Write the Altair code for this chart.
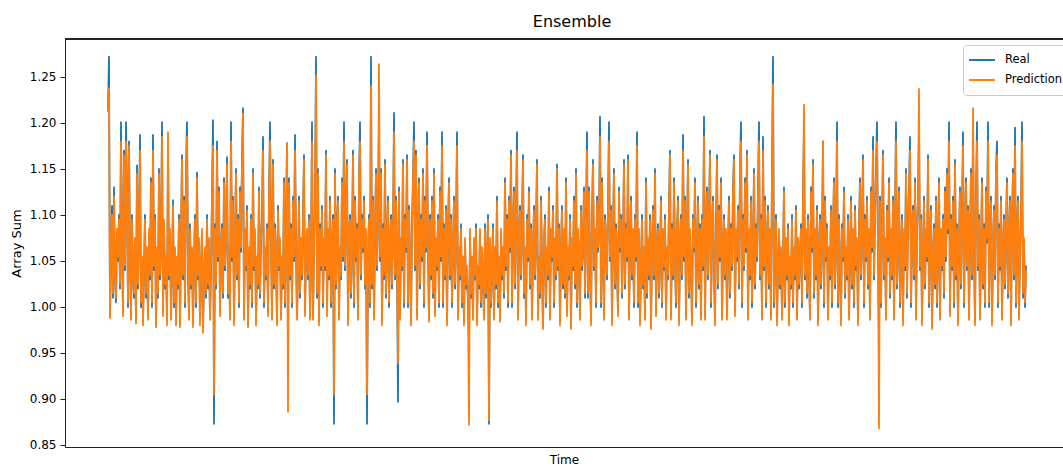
import altair as alt
import pandas as pd

# Measured series, one sample per time step
real = [
    1.215, 1.272, 0.99, 1.06, 1.11, 1.01, 1.13, 1.03, 1.005, 1.08, 1.05, 1.10, 1.02, 1.201, 1.07, 0.995, 1.17, 1.04, 1.201, 1.12,
    1.00, 1.18, 1.06, 0.99, 1.10, 1.03, 1.01, 1.07, 0.985, 1.154, 1.02, 1.09, 1.187, 1.00, 1.05, 0.985, 1.04, 1.10, 1.01, 1.06,
    0.99, 1.08, 1.03, 1.14, 1.00, 1.187, 1.04, 1.10, 0.98, 1.06, 1.01, 1.15, 1.03, 1.07, 1.201, 0.995, 1.09, 1.02, 1.05, 0.985,
    1.17, 1.03, 1.08, 0.99, 1.04, 1.116, 1.00, 1.06, 0.982, 1.05, 1.02, 1.10, 0.98, 1.07, 1.165, 1.03, 1.12, 1.00, 1.15, 1.201,
    1.04, 0.99, 1.09, 1.02, 1.06, 0.982, 1.05, 1.10, 1.00, 1.146, 1.03, 1.07, 0.985, 1.04, 1.08, 0.978, 1.03, 1.06, 1.01, 1.10,
    1.02, 1.07, 0.99, 1.04, 1.12, 1.203, 0.873, 1.09, 1.02, 1.18, 1.05, 1.13, 0.995, 1.06, 1.09, 1.01, 1.14, 1.04, 1.08, 1.163,
    1.01, 1.06, 0.99, 1.201, 1.05, 1.12, 0.985, 1.07, 1.15, 1.03, 1.10, 1.00, 1.13, 1.06, 1.16, 1.216, 0.99, 1.08, 1.04, 1.11,
    0.98, 1.06, 1.02, 1.10, 1.00, 1.15, 1.04, 1.08, 0.985, 1.05, 1.02, 1.13, 1.01, 1.07, 1.10, 1.185, 1.00, 1.06, 1.03, 1.09,
    0.995, 1.12, 1.201, 1.07, 0.99, 1.16, 1.02, 1.09, 1.05, 0.985, 1.11, 1.04, 1.07, 0.99, 1.05, 1.02, 1.14, 1.00, 1.08, 1.178,
    0.96, 1.14, 1.03, 1.09, 1.00, 1.12, 1.05, 1.187, 1.06, 0.99, 1.04, 1.12, 1.01, 1.07, 1.03, 1.10, 1.165, 0.995, 1.06, 1.08,
    1.03, 1.10, 0.99, 1.05, 1.201, 0.99, 1.06, 1.12, 1.272, 1.01, 1.15, 0.985, 1.09, 1.04, 1.11, 1.00, 1.07, 1.04, 1.17, 0.995,
    1.08, 1.03, 1.12, 1.00, 1.06, 1.10, 0.873, 1.15, 1.02, 1.09, 1.12, 0.99, 1.06, 1.03, 1.14, 1.05, 1.201, 1.04, 1.10, 1.16,
    0.985, 1.08, 1.10, 1.01, 1.06, 1.17, 1.00, 1.12, 1.05, 1.09, 0.99, 1.14, 1.201, 1.03, 1.10, 1.06, 1.12, 1.02, 1.08, 0.873,
    1.05, 1.10, 1.00, 1.272, 1.02, 1.12, 0.99, 1.08, 1.15, 1.04, 1.10, 1.20, 1.05, 1.15, 0.985, 1.09, 1.03, 1.16, 1.01, 1.07,
    1.12, 1.00, 1.06, 1.10, 1.02, 1.08, 1.211, 1.03, 1.12, 1.05, 0.897, 1.13, 0.99, 1.07, 1.04, 1.16, 1.00, 1.10, 1.06, 1.165,
    1.00, 1.11, 1.05, 0.985, 1.09, 1.14, 1.201, 1.04, 1.17, 0.99, 1.08, 1.14, 1.02, 1.10, 1.05, 1.15, 1.00, 1.12, 1.06, 1.19,
    1.06, 0.988, 1.10, 1.03, 1.12, 1.01, 1.15, 0.995, 1.07, 1.04, 1.10, 1.00, 1.13, 1.05, 1.19, 1.00, 1.09, 1.03, 1.11, 0.985,
    1.08, 1.14, 1.03, 1.10, 1.00, 1.06, 1.12, 1.02, 1.08, 1.19, 0.99, 1.06, 1.03, 1.09, 1.00, 1.05, 0.985, 1.07, 1.02, 1.04,
    1.00, 0.96, 1.08, 1.01, 1.05, 0.99, 1.07, 1.03, 1.09, 0.985, 1.04, 1.02, 1.08, 1.00, 1.06, 1.03, 0.99, 1.09, 1.01, 1.05,
    1.10, 0.873, 1.07, 1.00, 1.04, 1.09, 0.99, 1.06, 1.02, 1.12, 1.00, 1.05, 0.988, 1.08, 1.03, 1.06, 1.01, 1.14, 1.04, 1.10,
    1.00, 1.12, 1.06, 1.17, 1.00, 1.08, 1.13, 1.02, 1.10, 1.19, 0.99, 1.07, 1.11, 1.03, 1.09, 1.165, 1.01, 1.06, 0.985, 1.10,
    1.05, 1.13, 1.02, 1.09, 0.99, 1.06, 1.11, 1.03, 1.08, 1.16, 0.99, 1.05, 1.01, 1.12, 1.04, 0.98, 1.07, 1.10, 1.00, 1.06,
    1.03, 1.13, 0.99, 1.08, 1.05, 1.11, 1.00, 1.07, 1.03, 1.155, 1.04, 1.09, 0.985, 1.06, 1.11, 1.02, 1.08, 1.01, 1.14, 0.995,
    1.06, 1.03, 1.10, 0.98, 1.07, 1.04, 1.12, 1.02, 1.15, 1.00, 1.08, 1.05, 0.99, 1.11, 1.04, 1.07, 1.13, 1.01, 1.09, 1.19,
    1.01, 1.13, 1.05, 0.985, 1.10, 1.16, 1.04, 1.08, 1.00, 1.12, 1.06, 1.09, 1.207, 1.00, 1.14, 1.05, 0.99, 1.10, 1.07, 1.03,
    1.11, 1.201, 1.05, 1.11, 0.985, 1.08, 1.15, 1.02, 1.09, 1.04, 0.995, 1.13, 1.06, 1.10, 1.01, 1.07, 1.16, 1.02, 1.09, 1.05,
    1.165, 0.99, 1.06, 1.12, 1.03, 1.08, 1.00, 1.10, 1.05, 1.19, 1.00, 1.08, 0.985, 1.04, 1.10, 1.02, 1.06, 0.99, 1.14, 1.01,
    1.07, 1.03, 1.10, 0.98, 1.06, 1.11, 1.03, 1.15, 0.995, 1.06, 1.09, 1.01, 1.05, 1.12, 1.00, 1.08, 1.04, 1.10, 0.99, 1.06,
    1.03, 1.11, 1.17, 0.99, 1.09, 1.03, 1.14, 1.05, 1.00, 1.08, 1.12, 0.985, 1.06, 1.10, 1.03, 1.187, 1.05, 1.12, 0.99, 1.08,
    1.16, 1.01, 1.08, 1.04, 0.985, 1.10, 1.06, 1.14, 1.00, 1.05, 1.12, 1.02, 1.09, 0.99, 1.10, 1.04, 1.207, 0.99, 1.08, 1.13,
    1.03, 1.10, 1.17, 1.00, 1.07, 1.12, 1.04, 0.985, 1.09, 1.165, 1.02, 1.11, 1.05, 1.14, 0.99, 1.06, 1.10, 1.03, 1.08, 0.99,
    1.06, 1.12, 1.01, 1.09, 1.04, 1.13, 1.165, 0.995, 1.08, 1.05, 1.11, 1.02, 1.15, 1.201, 1.00, 1.10, 1.04, 1.14, 1.06, 1.17,
    0.99, 1.08, 1.03, 1.12, 1.00, 1.06, 1.15, 1.02, 1.09, 1.05, 1.13, 1.201, 1.03, 1.10, 0.99, 1.185, 1.04, 1.12, 1.00, 1.07,
    1.11, 1.02, 1.08, 0.99, 1.15, 1.272, 1.00, 1.06, 1.10, 0.985, 1.04, 1.08, 1.02, 1.06, 0.99, 1.05, 1.13, 1.00, 1.07, 1.03,
    1.09, 0.985, 1.05, 1.02, 1.10, 1.00, 1.06, 1.03, 1.11, 0.99, 1.07, 1.02, 1.05, 1.09, 1.00, 1.12, 1.19, 1.03, 1.08, 1.01,
    1.10, 1.04, 0.99, 1.13, 1.06, 1.16, 1.01, 1.08, 1.03, 1.11, 0.985, 1.06, 1.10, 1.02, 1.07, 1.18, 1.00, 1.12, 1.05, 1.09,
    0.99, 1.06, 1.03, 1.11, 1.00, 1.08, 1.14, 1.02, 1.07, 1.201, 1.00, 1.10, 1.04, 0.985, 1.09, 1.05, 1.13, 1.01, 1.06, 1.03,
    1.10, 0.99, 1.05, 1.12, 1.02, 1.08, 1.00, 1.11, 1.04, 1.07, 0.985, 1.09, 1.14, 1.03, 1.08, 1.165, 1.00, 1.10, 1.05, 1.12,
    1.02, 1.08, 0.99, 1.13, 1.06, 1.185, 1.03, 1.10, 1.15, 1.201, 1.06, 0.96, 1.12, 1.00, 1.09, 1.17, 1.03, 1.07, 0.99, 1.11,
    1.05, 1.14, 1.01, 1.08, 1.03, 1.12, 0.99, 1.10, 1.201, 1.02, 1.07, 1.13, 1.00, 1.06, 1.10, 0.985, 1.08, 1.04, 1.15, 1.01,
    1.09, 1.13, 1.185, 1.00, 1.07, 1.11, 1.03, 1.14, 0.99, 1.08, 1.12, 1.19, 1.04, 1.10, 0.985, 1.06, 1.12, 1.02, 1.08, 1.05,
    1.165, 1.00, 1.07, 1.11, 0.98, 1.05, 1.09, 1.02, 1.12, 1.00, 1.06, 1.14, 0.99, 1.08, 1.04, 1.10, 1.01, 1.13, 1.05, 1.15,
    1.08, 1.201, 0.995, 1.10, 1.04, 1.12, 1.00, 1.16, 1.03, 1.09, 0.985, 1.07, 1.13, 1.02, 1.10, 1.19, 1.00, 1.08, 1.14, 1.04,
    1.11, 0.99, 1.07, 1.15, 1.03, 1.19, 1.06, 0.985, 1.12, 1.201, 1.04, 1.10, 0.99, 1.06, 1.14, 1.02, 1.09, 1.00, 1.13, 1.07,
    1.201, 1.00, 1.08, 1.12, 0.985, 1.06, 1.11, 1.03, 1.15, 1.18, 1.00, 1.09, 1.04, 1.12, 0.99, 1.06, 1.10, 1.02, 1.08, 1.14,
    1.01, 1.07, 1.12, 0.985, 1.09, 1.15, 1.03, 1.195, 1.00, 1.08, 1.12, 0.99, 1.06, 1.10, 1.201, 1.01, 1.07, 1.00, 1.045,
]

# Ensemble model output for the same time steps
prediction = [
    1.212, 1.238, 0.988, 1.065, 1.10, 1.015, 1.12, 1.035, 1.01, 1.085, 1.055, 1.095, 1.025, 1.18, 1.075, 0.99, 1.165, 1.045, 1.18, 1.115,
    1.005, 1.175, 1.065, 0.986, 1.095, 1.035, 1.015, 1.075, 0.982, 1.145, 1.025, 1.085, 1.17, 1.005, 1.055, 0.98, 1.045, 1.095, 1.015, 1.065,
    0.986, 1.085, 1.035, 1.135, 1.005, 1.17, 1.045, 1.095, 0.978, 1.065, 1.015, 1.145, 1.035, 1.075, 1.185, 0.99, 1.095, 1.025, 1.055, 0.98,
    1.19, 1.035, 1.085, 0.986, 1.045, 1.11, 1.005, 1.065, 0.98, 1.055, 1.025, 1.095, 0.978, 1.075, 1.16, 1.035, 1.115, 1.005, 1.145, 1.185,
    1.045, 0.986, 1.085, 1.025, 1.065, 0.978, 1.055, 1.095, 1.005, 1.14, 1.035, 1.075, 0.98, 1.045, 1.085, 0.972, 1.035, 1.065, 1.015, 1.095,
    1.025, 1.075, 0.986, 1.045, 1.115, 1.175, 0.905, 1.085, 1.025, 1.17, 1.055, 1.125, 0.99, 1.065, 1.085, 1.015, 1.135, 1.045, 1.085, 1.155,
    1.015, 1.065, 0.986, 1.18, 1.055, 1.115, 0.98, 1.075, 1.145, 1.035, 1.095, 1.005, 1.125, 1.065, 1.155, 1.21, 0.986, 1.085, 1.045, 1.105,
    0.978, 1.065, 1.025, 1.095, 1.005, 1.145, 1.045, 1.085, 0.98, 1.055, 1.025, 1.125, 1.015, 1.075, 1.095, 1.17, 1.005, 1.065, 1.035, 1.085,
    0.99, 1.115, 1.18, 1.075, 0.986, 1.155, 1.025, 1.085, 1.055, 0.98, 1.105, 1.045, 1.075, 0.986, 1.055, 1.025, 1.135, 1.005, 1.085, 1.178,
    0.886, 1.135, 1.035, 1.085, 1.005, 1.115, 1.055, 1.17, 1.065, 0.986, 1.045, 1.115, 1.015, 1.075, 1.035, 1.095, 1.16, 0.99, 1.065, 1.085,
    1.035, 1.095, 0.986, 1.055, 1.18, 0.986, 1.065, 1.115, 1.252, 1.015, 1.145, 0.98, 1.085, 1.045, 1.105, 1.005, 1.075, 1.045, 1.165, 0.99,
    1.085, 1.035, 1.115, 1.005, 1.065, 1.095, 0.905, 1.145, 1.025, 1.085, 1.115, 0.986, 1.065, 1.035, 1.135, 1.055, 1.18, 1.045, 1.095, 1.155,
    0.98, 1.085, 1.095, 1.015, 1.065, 1.165, 1.005, 1.115, 1.055, 1.085, 0.986, 1.135, 1.18, 1.035, 1.095, 1.065, 1.115, 1.025, 1.085, 0.905,
    1.055, 1.095, 1.005, 1.24, 1.025, 1.115, 0.986, 1.085, 1.145, 1.045, 1.095, 1.264, 1.055, 1.145, 0.98, 1.085, 1.035, 1.155, 1.015, 1.075,
    1.115, 1.005, 1.065, 1.095, 1.025, 1.085, 1.19, 1.035, 1.115, 1.055, 0.939, 1.125, 0.986, 1.075, 1.045, 1.155, 1.005, 1.095, 1.065, 1.16,
    1.005, 1.105, 1.055, 0.98, 1.085, 1.135, 1.18, 1.045, 1.165, 0.986, 1.085, 1.135, 1.025, 1.095, 1.055, 1.145, 1.005, 1.115, 1.065, 1.175,
    1.065, 0.984, 1.095, 1.035, 1.115, 1.015, 1.145, 0.99, 1.075, 1.045, 1.095, 1.005, 1.125, 1.055, 1.175, 1.005, 1.085, 1.035, 1.105, 0.98,
    1.085, 1.135, 1.035, 1.095, 1.005, 1.065, 1.115, 1.025, 1.085, 1.175, 0.986, 1.065, 1.035, 1.085, 1.005, 1.055, 0.98, 1.075, 1.025, 1.045,
    1.005, 0.872, 1.085, 1.015, 1.055, 0.986, 1.075, 1.035, 1.085, 0.98, 1.045, 1.025, 1.085, 1.005, 1.065, 1.035, 0.986, 1.085, 1.015, 1.055,
    1.095, 0.877, 1.075, 1.005, 1.045, 1.085, 0.986, 1.065, 1.025, 1.115, 1.005, 1.055, 0.984, 1.085, 1.035, 1.065, 1.015, 1.135, 1.045, 1.095,
    1.005, 1.115, 1.065, 1.165, 1.005, 1.085, 1.125, 1.025, 1.095, 1.17, 0.986, 1.075, 1.105, 1.035, 1.085, 1.16, 1.015, 1.065, 0.98, 1.095,
    1.055, 1.125, 1.025, 1.085, 0.986, 1.065, 1.105, 1.035, 1.085, 1.155, 0.986, 1.055, 1.015, 1.115, 1.045, 0.976, 1.075, 1.095, 1.005, 1.065,
    1.035, 1.125, 0.986, 1.085, 1.055, 1.105, 1.005, 1.075, 1.035, 1.15, 1.045, 1.085, 0.98, 1.065, 1.105, 1.025, 1.085, 1.015, 1.135, 0.99,
    1.065, 1.035, 1.095, 0.976, 1.075, 1.045, 1.115, 1.025, 1.145, 1.005, 1.085, 1.055, 0.986, 1.105, 1.045, 1.075, 1.125, 1.015, 1.085, 1.17,
    1.015, 1.125, 1.055, 0.98, 1.095, 1.155, 1.045, 1.085, 1.005, 1.115, 1.065, 1.085, 1.185, 1.005, 1.135, 1.055, 0.986, 1.095, 1.075, 1.035,
    1.105, 1.18, 1.055, 1.105, 0.98, 1.085, 1.145, 1.025, 1.085, 1.045, 0.99, 1.125, 1.065, 1.095, 1.015, 1.075, 1.155, 1.025, 1.085, 1.055,
    1.16, 0.986, 1.065, 1.115, 1.035, 1.085, 1.005, 1.095, 1.055, 1.175, 1.005, 1.085, 0.98, 1.045, 1.095, 1.025, 1.065, 0.986, 1.135, 1.015,
    1.075, 1.035, 1.095, 0.976, 1.065, 1.105, 1.035, 1.145, 0.99, 1.065, 1.085, 1.015, 1.055, 1.115, 1.005, 1.085, 1.045, 1.095, 0.986, 1.065,
    1.035, 1.105, 1.165, 0.986, 1.085, 1.035, 1.135, 1.055, 1.005, 1.085, 1.115, 0.98, 1.065, 1.095, 1.035, 1.17, 1.055, 1.115, 0.986, 1.085,
    1.155, 1.015, 1.085, 1.045, 0.98, 1.095, 1.065, 1.135, 1.005, 1.055, 1.115, 1.025, 1.085, 0.986, 1.095, 1.045, 1.185, 0.986, 1.085, 1.125,
    1.035, 1.095, 1.165, 1.005, 1.075, 1.115, 1.045, 0.98, 1.085, 1.16, 1.025, 1.105, 1.055, 1.135, 0.986, 1.065, 1.095, 1.035, 1.085, 0.986,
    1.065, 1.115, 1.015, 1.085, 1.045, 1.125, 1.16, 0.99, 1.085, 1.055, 1.105, 1.025, 1.145, 1.18, 1.005, 1.095, 1.045, 1.135, 1.065, 1.165,
    0.986, 1.085, 1.035, 1.115, 1.005, 1.065, 1.145, 1.025, 1.085, 1.055, 1.125, 1.18, 1.035, 1.095, 0.986, 1.17, 1.045, 1.115, 1.005, 1.075,
    1.105, 1.025, 1.085, 0.986, 1.145, 1.242, 1.005, 1.065, 1.095, 0.98, 1.045, 1.085, 1.025, 1.065, 0.986, 1.055, 1.125, 1.005, 1.075, 1.035,
    1.085, 0.98, 1.055, 1.025, 1.095, 1.005, 1.065, 1.035, 1.105, 0.986, 1.075, 1.025, 1.055, 1.085, 1.005, 1.115, 1.22, 1.035, 1.085, 1.015,
    1.095, 1.045, 0.986, 1.125, 1.065, 1.155, 1.015, 1.085, 1.035, 1.105, 0.98, 1.065, 1.095, 1.025, 1.075, 1.18, 1.005, 1.115, 1.055, 1.085,
    0.986, 1.065, 1.035, 1.105, 1.005, 1.085, 1.135, 1.025, 1.075, 1.18, 1.005, 1.095, 1.045, 0.98, 1.085, 1.055, 1.125, 1.015, 1.065, 1.035,
    1.095, 0.986, 1.055, 1.115, 1.025, 1.085, 1.005, 1.105, 1.045, 1.075, 0.98, 1.085, 1.135, 1.035, 1.085, 1.16, 1.005, 1.095, 1.055, 1.115,
    1.025, 1.085, 0.986, 1.125, 1.065, 1.17, 1.035, 1.095, 1.145, 1.18, 1.065, 0.868, 1.115, 1.005, 1.085, 1.165, 1.035, 1.075, 0.986, 1.105,
    1.055, 1.135, 1.015, 1.085, 1.035, 1.115, 0.986, 1.095, 1.18, 1.025, 1.075, 1.125, 1.005, 1.065, 1.095, 0.98, 1.085, 1.045, 1.145, 1.015,
    1.085, 1.125, 1.17, 1.005, 1.075, 1.105, 1.035, 1.135, 0.986, 1.085, 1.115, 1.237, 1.045, 1.095, 0.98, 1.065, 1.115, 1.025, 1.085, 1.055,
    1.16, 1.005, 1.075, 1.105, 0.976, 1.055, 1.085, 1.025, 1.115, 1.005, 1.065, 1.135, 0.986, 1.085, 1.045, 1.095, 1.015, 1.125, 1.055, 1.145,
    1.085, 1.18, 0.99, 1.095, 1.045, 1.115, 1.005, 1.155, 1.035, 1.085, 0.98, 1.075, 1.125, 1.025, 1.095, 1.175, 1.005, 1.085, 1.135, 1.045,
    1.105, 0.986, 1.075, 1.145, 1.035, 1.216, 1.065, 0.98, 1.115, 1.18, 1.045, 1.095, 0.986, 1.065, 1.135, 1.025, 1.085, 1.005, 1.125, 1.075,
    1.18, 1.005, 1.085, 1.115, 0.98, 1.065, 1.105, 1.035, 1.145, 1.165, 1.005, 1.085, 1.045, 1.115, 0.986, 1.065, 1.095, 1.025, 1.085, 1.135,
    1.015, 1.075, 1.115, 0.98, 1.085, 1.145, 1.035, 1.175, 1.005, 1.085, 1.115, 0.986, 1.065, 1.095, 1.18, 1.015, 1.075, 1.005, 1.04,
]

series_names = ["Real", "Prediction"]
series_colors = ["#1f77b4", "#ff7f0e"]
y_ticks = [0.85, 0.90, 0.95, 1.00, 1.05, 1.10, 1.15, 1.20, 1.25]

df = pd.DataFrame({"t": list(range(len(real))), "Real": real, "Prediction": prediction})

FONT = "DejaVu Sans"
W, H = 998, 408

x_enc = alt.X(
    "t:Q",
    scale=alt.Scale(domain=[-43, 955], nice=False, zero=False),
    axis=alt.Axis(
        title="Time", labels=False, ticks=False, grid=False,
        domainColor="#222222", domainWidth=1,
        titleFont=FONT, titleFontSize=12, titleFontWeight="normal",
        titleColor="#000000", titlePadding=7,
    ),
)
y_enc = alt.Y(
    "value:Q",
    scale=alt.Scale(domain=[0.8478, 1.2913], nice=False, zero=False),
    axis=alt.Axis(
        title="Array Sum", values=y_ticks, format=".2f", grid=False,
        domainColor="#222222", domainWidth=1,
        tickColor="#222222", tickSize=5, tickWidth=1,
        labelFont=FONT, labelFontSize=12, labelColor="#000000", labelPadding=4,
        titleFont=FONT, titleFontSize=13, titleFontWeight="normal",
        titleColor="#000000", titlePadding=6,
    ),
)
color_enc = alt.Color(
    "series:N",
    scale=alt.Scale(domain=series_names, range=series_colors),
    legend=alt.Legend(
        title=None, orient="none", legendX=898, legendY=6,
        symbolType="stroke", symbolSize=676, symbolStrokeWidth=2,
        labelFont=FONT, labelFontSize=11.5, labelColor="#000000", labelOffset=9,
        fillColor="white", strokeColor="#cccccc", cornerRadius=3,
        padding=5, clipHeight=20, rowPadding=0,
    ),
)

base = alt.Chart(df).transform_fold(series_names, as_=["series", "value"])


def series_layer(name):
    return (
        base.transform_filter(alt.datum.series == name)
        .mark_line(strokeWidth=1.8, strokeJoin="round", clip=True)
        .encode(x=x_enc, y=y_enc, color=color_enc)
    )


# top spine of the axes frame
top_spine = alt.Chart(df).mark_rule(color="#222222", strokeWidth=1).encode(
    x=alt.value(0), x2=alt.value(W), y=alt.value(0)
)

chart = (
    alt.layer(series_layer("Real"), series_layer("Prediction"), top_spine)
    .properties(
        width=W,
        height=H,
        padding={"left": 65, "top": 39, "right": 0, "bottom": 19},
        autosize=alt.AutoSizeParams(type="none"),
        title=alt.TitleParams(
            "Ensemble", font=FONT, fontSize=16, fontWeight="normal",
            color="#000000", anchor="middle", offset=9, dx=8,
        ),
    )
    .configure_view(stroke=None)
    .configure(background="white")
)

chart.save("out.html", embed_options={"renderer": "svg", "actions": False})
